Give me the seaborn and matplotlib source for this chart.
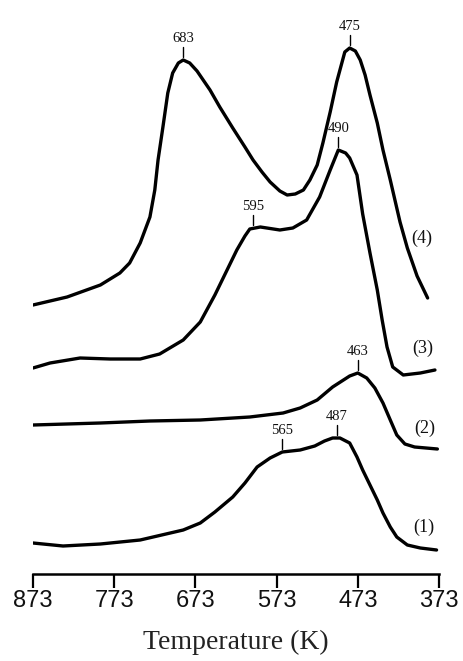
import numpy as np
import pandas as pd
import matplotlib
matplotlib.use("Agg")
import matplotlib.pyplot as plt
import seaborn as sns

# ---- data (temperature in K, signal in arbitrary units incl. vertical offsets) ----
t1 = [873, 836, 790, 741, 688, 667, 649, 627, 612, 597, 581, 566, 544, 526, 514, 504, 495, 483, 474, 467,
      458, 449, 442, 433, 425, 412, 396, 376]
s1 = [31, 28, 30, 34, 44, 51, 62, 77, 91, 107, 116, 122, 124, 128, 133, 136, 136, 131, 117, 104,
      89, 74, 61, 47, 37, 29, 26, 24]

t2 = [873, 790, 729, 667, 606, 565, 544, 523, 504, 483, 473, 462, 452, 442, 433, 425, 415, 403, 375]
s2 = [149, 151, 153, 154, 157, 161, 166, 174, 187, 198, 201, 196, 186, 171, 154, 139, 130, 127, 125]

t3 = [873, 852, 815, 778, 741, 717, 688, 667, 649, 634, 622, 612, 606, 593, 569, 553, 536, 520, 507, 497,
      488, 483, 474, 467, 458, 449, 443, 437, 430, 417, 396, 378]
s3 = [206, 211, 216, 215, 215, 220, 234, 252, 279, 304, 324, 338, 345, 347, 344, 346, 354, 377, 404, 424,
      421, 416, 399, 360, 321, 284, 254, 227, 207, 199, 201, 204]

t4 = [873, 831, 790, 766, 754, 741, 729, 723, 719, 713, 707, 701, 694, 688, 680, 671, 655, 643, 627, 612,
      602, 591, 581, 569, 560, 550, 540, 532, 523, 516, 507, 499, 489, 483, 476, 470, 464, 458, 449, 442,
      433, 421, 412, 400, 387]
s4 = [269, 277, 289, 301, 311, 331, 357, 384, 414, 447, 481, 501, 511, 514, 511, 503, 484, 467, 446, 427,
      414, 402, 392, 383, 379, 380, 384, 394, 409, 431, 462, 492, 522, 526, 523, 514, 499, 479, 451, 424,
      394, 352, 326, 298, 276]

curve_names = ["(1)", "(2)", "(3)", "(4)"]
# peak annotations: (curve index, temperature position, label)
peak_curve = [3, 3, 2, 2, 1, 0, 0]
peak_pos = [688, 483, 497, 602, 473, 499, 566]
peak_text = ["683", "475", "490", "595", "463", "487", "565"]

xticks = [873, 773, 673, 573, 473, 373]
xlabel = "Temperature (K)"

# ---- build long table ----
temps = [t1, t2, t3, t4]
sigs = [s1, s2, s3, s4]
df = pd.concat([pd.DataFrame({"T": t, "S": s, "curve": n}) for t, s, n in zip(temps, sigs, curve_names)],
               ignore_index=True)

sns.set_theme(style="white")
plt.rcParams["font.family"] = ["Liberation Serif", "DejaVu Serif"]

W, H = 464, 661
fig = plt.figure(figsize=(W / 100, H / 100), dpi=100)
ax = fig.add_axes([33 / W, (H - 574) / H, (439 - 33) / W, 574 / H])

sns.lineplot(data=df, x="T", y="S", hue="curve", palette=["black"] * 4, estimator=None, sort=False,
             units="curve", legend=False, linewidth=2.4, ax=ax)
for ln in ax.lines:
    ln.set_solid_joinstyle("round")
    ln.set_solid_capstyle("round")

ax.set_xlim(873, 373)
ax.set_ylim(0, 574)
ax.set_yticks([])
ax.set_xticks(xticks)
ax.set_xticklabels([str(v) for v in xticks], family="Liberation Sans", fontsize=17)
ax.tick_params(axis="x", direction="out", length=10, width=1.6, pad=1.5, color="black", labelcolor="#111111",
               bottom=True)
for side in ["top", "left", "right"]:
    ax.spines[side].set_visible(False)
ax.spines["bottom"].set_linewidth(1.8)
ax.spines["bottom"].set_color("black")
ax.set_xlabel("")
ax.set_ylabel("")
ax.patch.set_alpha(0)

# peak labels with short tick marks
for ci, tp, txt in zip(peak_curve, peak_pos, peak_text):
    t = np.array(temps[ci])[::-1]
    s = np.array(sigs[ci])[::-1]
    yv = float(np.interp(tp, t, s))
    ax.plot([tp, tp], [yv + 3, yv + 13], color="black", lw=1.0)
    ax.text(tp, yv + 15, txt, ha="center", va="bottom", fontsize=10.5, color="#111111")

# curve labels on the right
label_T = [392, 391, 393, 394]
label_S = [47, 146, 226, 336]
for tt, ss, n in zip(label_T, label_S, curve_names):
    ax.text(tt, ss, n, ha="center", va="center", fontsize=13, color="#111111")

fig.text(0.5 * (33 + 439) / W, (H - 649) / H, xlabel, ha="center", va="baseline", fontsize=20,
         color="#222222")

fig.savefig("out.png", dpi=100, facecolor="white")
